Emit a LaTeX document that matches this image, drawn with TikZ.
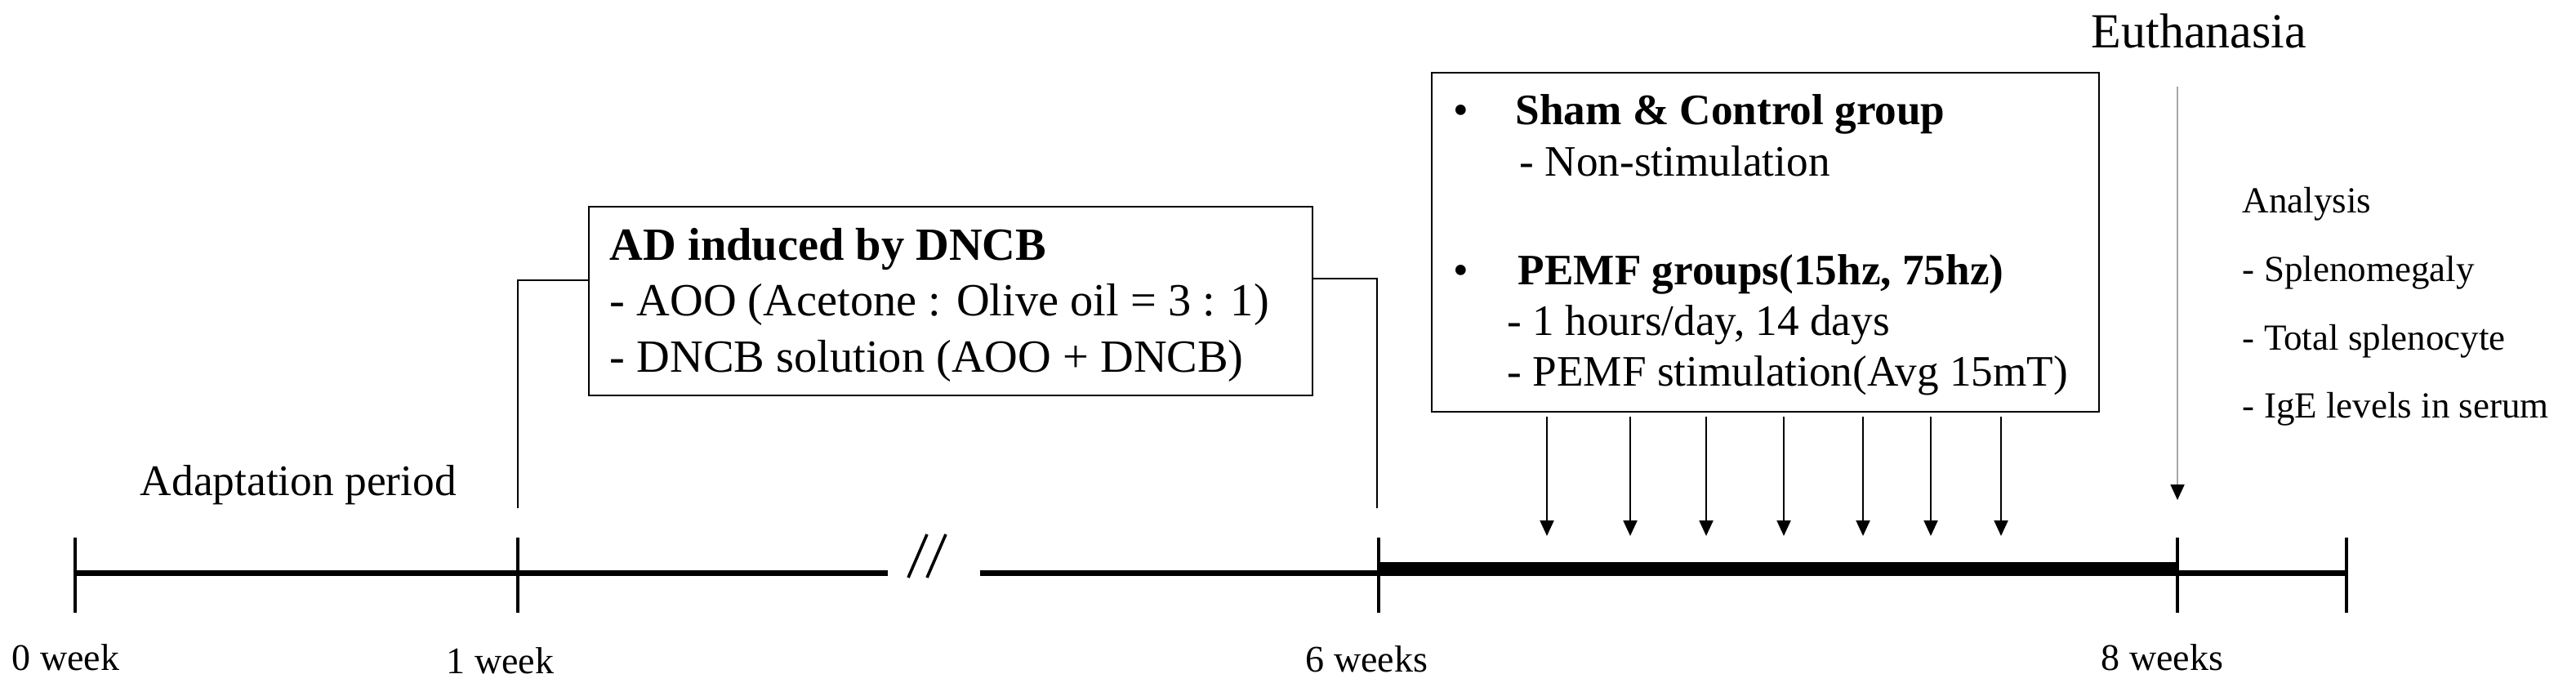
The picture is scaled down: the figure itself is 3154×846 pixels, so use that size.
\documentclass[tikz,border=0pt]{standalone}
\usepackage{fontspec}
\setmainfont{Liberation Serif}
\usetikzlibrary{arrows.meta}
\begin{document}
\begin{tikzpicture}[x=0.25pt,y=-0.25pt,
  lbl/.style={inner sep=0pt,anchor=base west},
  wk/.style={lbl,font=\fontsize{11.5pt}{13pt}\selectfont},
  boxtxt/.style={lbl,font=\fontsize{14.1pt}{16pt}\selectfont},
  pemftxt/.style={lbl,font=\fontsize{13.3pt}{15pt}\selectfont},
  anatxt/.style={lbl,font=\fontsize{11.25pt}{13pt}\selectfont},
  frame/.style={draw,line width=0.7pt,inner sep=0pt},
  axis/.style={line width=1.75pt},
  thickaxis/.style={line width=4.25pt},
  tick/.style={line width=1.1pt},
  bracket/.style={line width=0.6pt},
  stim/.style={line width=0.5pt,-{Triangle[width=4.25pt,length=4.75pt]}},
  euth/.style={line width=0.5pt,draw=black!35,-{Triangle[width=4.25pt,length=4.75pt,color=black]}},
  slash/.style={line width=0.9pt}]
\useasboundingbox (0,0) rectangle (3154,846);

% timeline coordinates
\coordinate (w0) at (92,701);
\coordinate (w1) at (634,701);
\coordinate (brkL) at (1087,701);
\coordinate (brkR) at (1200,701);
\coordinate (w6) at (1688,701);
\coordinate (w8) at (2666,701);
\coordinate (wend) at (2873,701);
\coordinate (w6t) at (1688,696.5);
\coordinate (w8t) at (2666,696.5);

\draw[axis] (w0) -- (w1) -- (brkL);
\draw[axis] (brkR) -- (w6);
\draw[thickaxis] (w6t) -- (w8t);
\draw[axis] (w8) -- (wend);

% break slashes
\coordinate (s1a) at (1112,707); \coordinate (s1b) at (1135,654);
\coordinate (s2a) at (1135,707); \coordinate (s2b) at (1158,654);
\draw[slash] (s1a) -- (s1b);
\draw[slash] (s2a) -- (s2b);

% ticks
\foreach \n/\x in {t0/92,t1/634,t6/1688,t8/2666,te/2873}{
  \coordinate (\n a) at (\x,658);
  \coordinate (\n b) at (\x,750);
  \draw[tick] (\n a) -- (\n b);
}

% week labels
\node[wk] (l0) at (14,820) {0 week};
\node[wk] (l1) at (546,824) {1 week};
\node[wk] (l6) at (1598,822) {6 weeks};
\node[wk] (l8) at (2572,820) {8 weeks};

\node[lbl,font=\fontsize{13.35pt}{15pt}\selectfont] (adapt) at (171,606) {Adaptation period};

% AD box
\node[frame,minimum width=221.5pt,minimum height=57.75pt] (adbox) at (1164,368.5) {};
\node[boxtxt,font=\bfseries\fontsize{14.1pt}{16pt}\selectfont] (ad1) at (746,318) {AD induced by DNCB};
\node[boxtxt] (ad2) at (746,386) {- AOO (Acetone : Olive oil = 3 : 1)};
\node[boxtxt] (ad3) at (746,455) {- DNCB solution (AOO + DNCB)};

% bracket
\coordinate (bl) at (634,622);
\coordinate (br) at (1686,622);
\draw[bracket] (bl) |- (adbox.west |- 0,343);
\draw[bracket] (br) |- (adbox.east |- 0,341);

% PEMF box
\node[frame,minimum width=204.25pt,minimum height=103.75pt] (pbox) at (2161.5,296.5) {};
\node[pemftxt] (b1) at (1779,152) {•};
\node[pemftxt,font=\bfseries\fontsize{13.3pt}{15pt}\selectfont] (p1) at (1855,152) {Sham \& Control group};
\node[pemftxt] (p2) at (1860,215) {- Non-stimulation};
\node[pemftxt] (b2) at (1779,348) {•};
\node[pemftxt,font=\bfseries\fontsize{13.3pt}{15pt}\selectfont] (p3) at (1858,348) {PEMF groups(15hz, 75hz)};
\node[pemftxt] (p4) at (1845,410) {- 1 hours/day, 14 days};
\node[pemftxt] (p5) at (1845,472) {- PEMF stimulation(Avg 15mT)};

% stimulation arrows
\foreach \i/\x in {1/1894,2/1996,3/2089,4/2184,5/2281,6/2364,7/2450}{
  \coordinate (a\i s) at (\x,510);
  \coordinate (a\i e) at (\x,656);
  \draw[stim] (a\i s) -- (a\i e);
}

% euthanasia
\node[lbl,font=\fontsize{15pt}{17pt}\selectfont] (euth) at (2560,58) {Euthanasia};
\coordinate (eus) at (2666,106);
\coordinate (eue) at (2666,612);
\draw[euth] (eus) -- (eue);

% analysis
\node[anatxt] (an0) at (2745,260) {Analysis};
\node[anatxt] (an1) at (2745,344) {- Splenomegaly};
\node[anatxt] (an2) at (2745,428) {- Total splenocyte};
\node[anatxt] (an3) at (2745,511) {- IgE levels in serum};
\end{tikzpicture}
\end{document}
